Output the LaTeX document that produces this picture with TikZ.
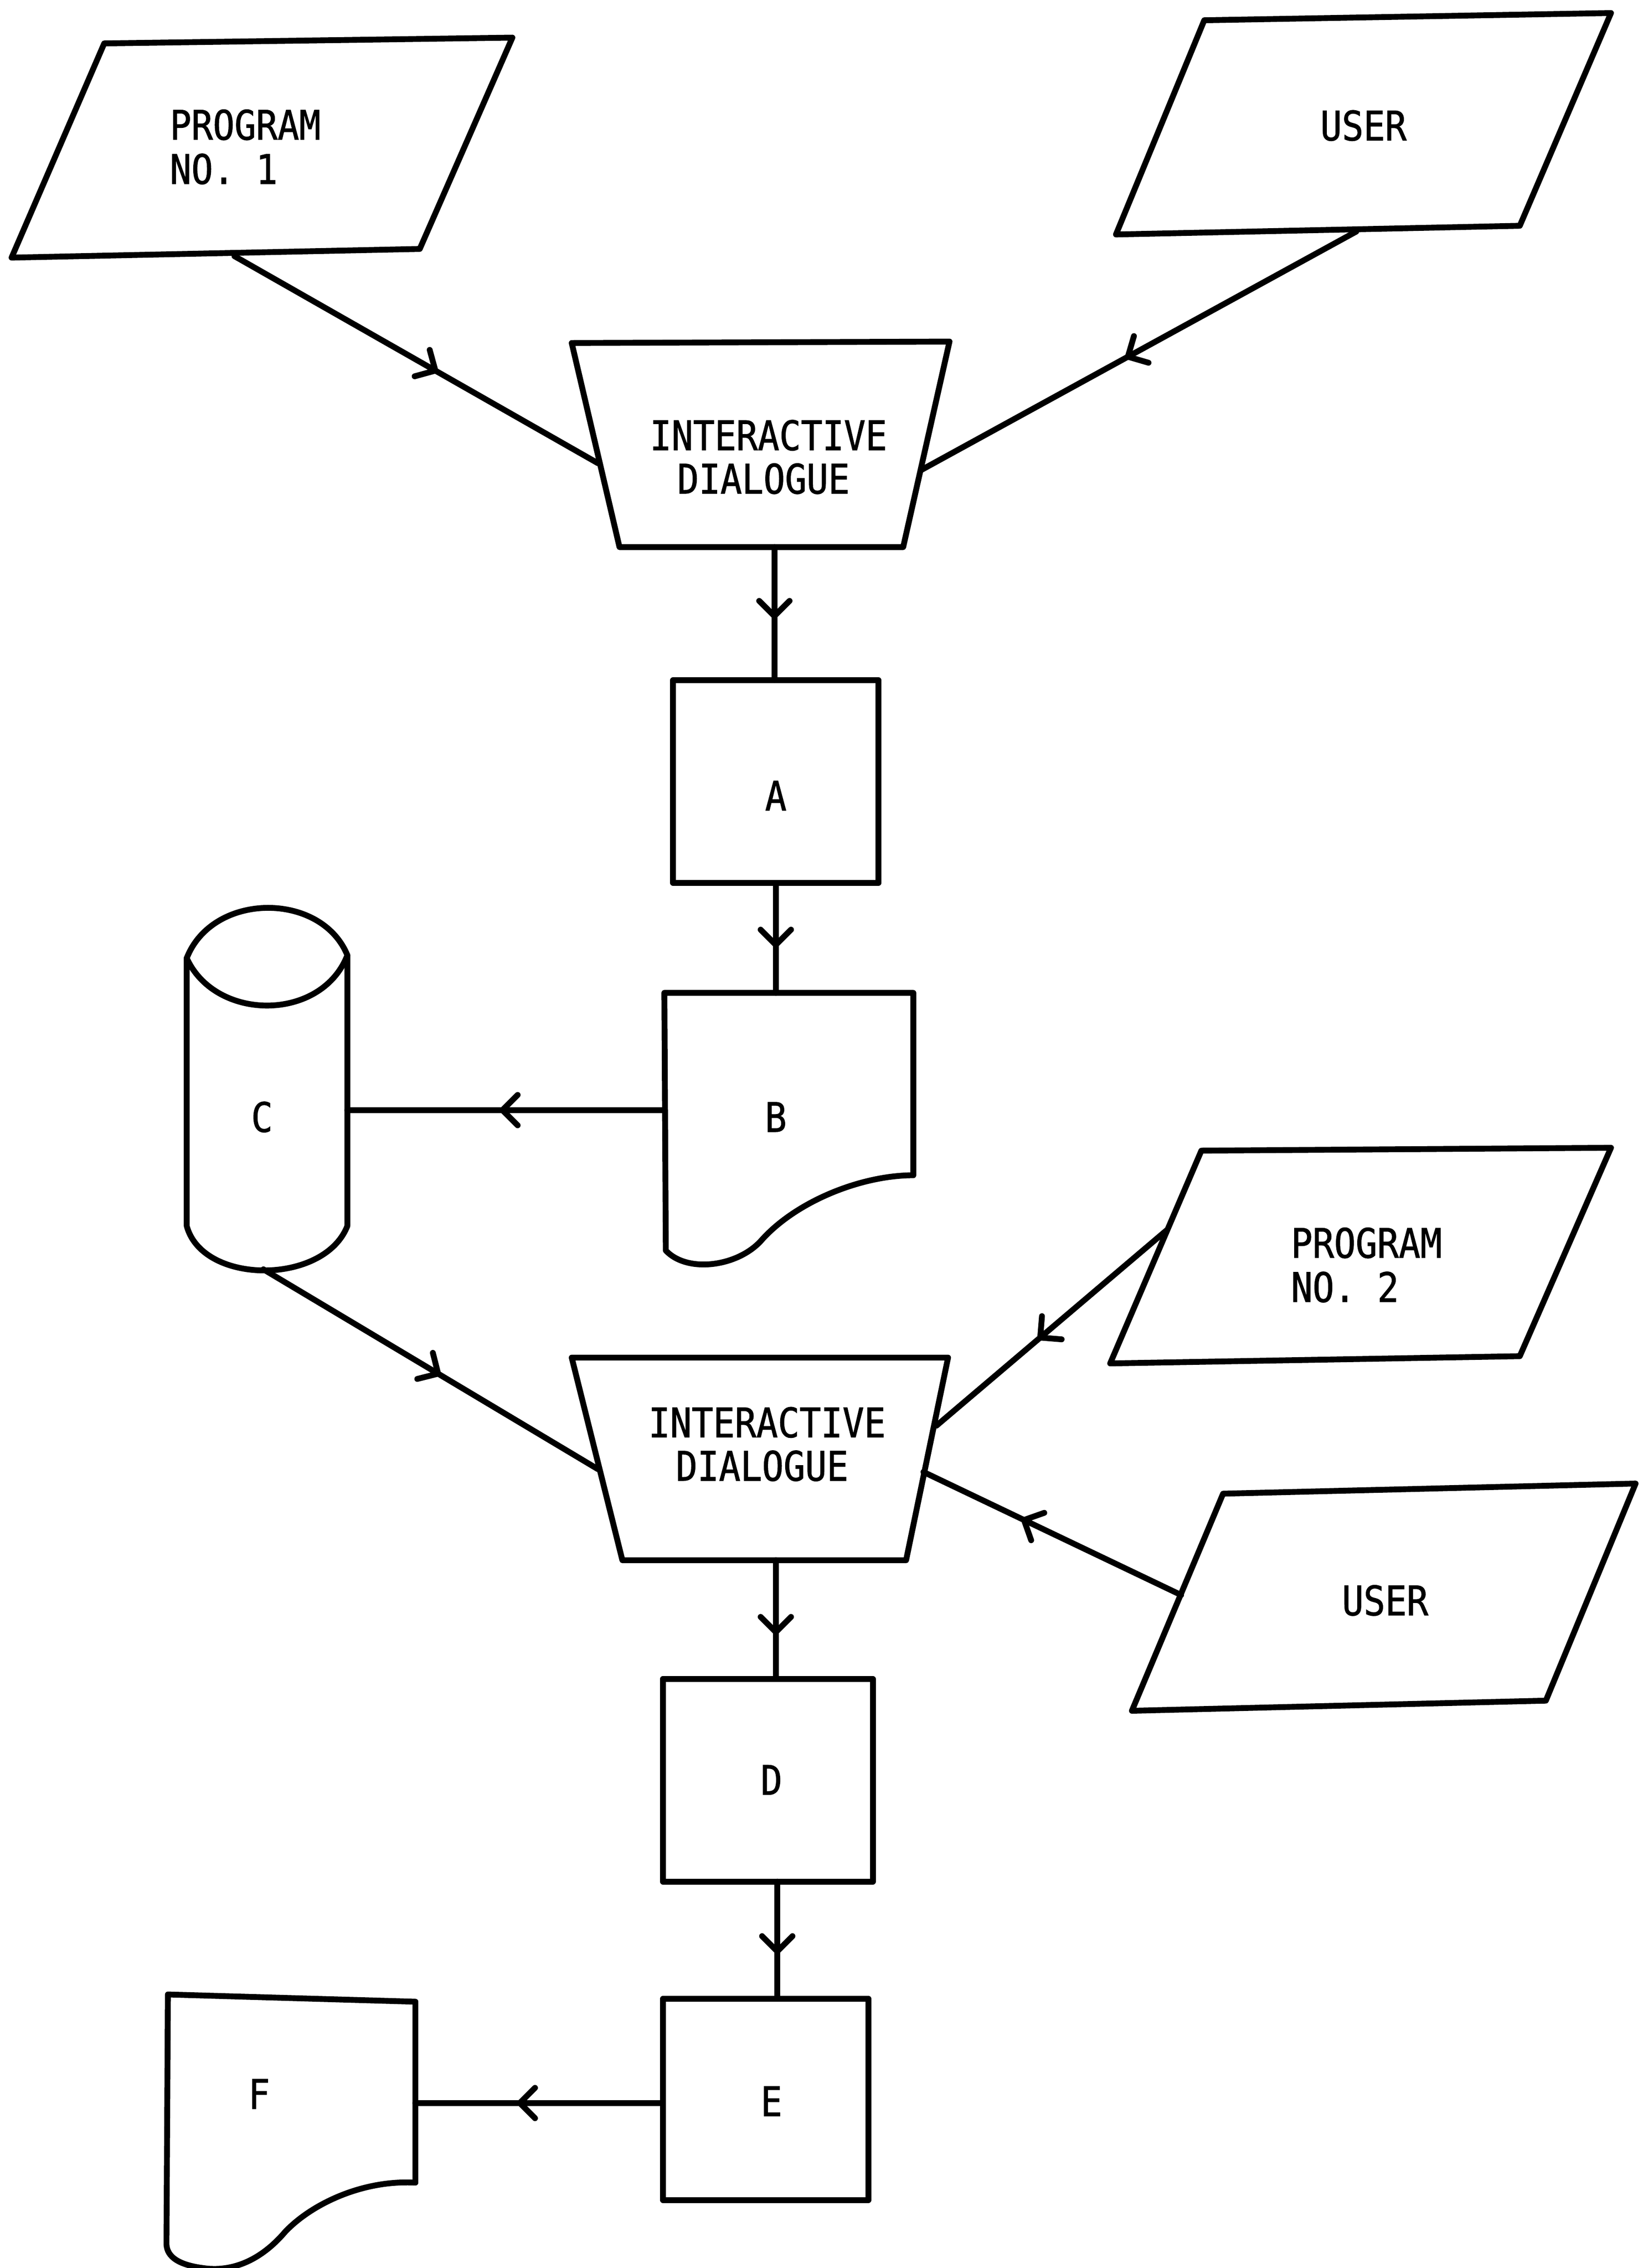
\documentclass[tikz,border=0pt]{standalone}
\usepackage{fontspec}
\newfontfamily\typefont[FakeStretch=0.88,FakeBold=1.2]{DejaVu Sans Mono}
\usetikzlibrary{arrows.meta,decorations.markings}
\begin{document}
\begin{tikzpicture}[x=0.02cm,y=-0.02cm,
  outline/.style={draw=black, line width=2.3pt, line join=round, line cap=round},
  txt/.style={font=\typefont\fontsize{16}{17.3}\selectfont, inner sep=0pt},
  flow/.style={outline, postaction={decorate},
    decoration={markings, mark=at position #1 with {\arrow{Straight Barb[length=0.21cm,width=0.42cm,round]}}}}
]
\path[fill=white,use as bounding box] (0,0) rectangle (1135,1567);

% ---- shapes ----
% Program No. 1 (parallelogram)
\draw[outline] (72,30) -- (354,26) -- (290,172) -- (8,178) -- cycle;
% User (top)
\draw[outline] (832,14) -- (1113,9) -- (1050,156) -- (771,162) -- cycle;
% Interactive dialogue 1 (trapezium)
\draw[outline] (395,237) -- (656,236) -- (624,378) -- (428,378) -- cycle;
% A
\draw[outline] (465,470) rectangle (607,610);
% B (document)
\draw[outline] (459,686) -- (631,686) -- (631,812)
  .. controls (595,812) and (550,830) .. (526,857)
  .. controls (510,875) and (475,880) .. (460,864) -- cycle;
% C (cylinder)
\draw[outline] (129,662) -- (129,847) .. controls (140,888) and (224,888) .. (240,847) -- (240,660);
\draw[outline] (129,662) .. controls (147,616) and (222,616) .. (240,660)
  .. controls (222,706) and (149,706) .. cycle;
% Program No. 2
\draw[outline] (830,795) -- (1113,793) -- (1050,937) -- (767,942) -- cycle;
% Interactive dialogue 2
\draw[outline] (395,938) -- (655,938) -- (626,1078) -- (430,1078) -- cycle;
% User (bottom)
\draw[outline] (845,1032) -- (1130,1025) -- (1068,1175) -- (782,1182) -- cycle;
% D
\draw[outline] (458,1160) rectangle (603,1300);
% E
\draw[outline] (458,1381) rectangle (600,1520);
% F (document)
\draw[outline] (116,1378) -- (287,1383) -- (287,1508)
  .. controls (250,1506) and (215,1523) .. (197,1542)
  .. controls (180,1562) and (160,1570) .. (140,1567)
  .. controls (125,1565) and (115,1560) .. (115,1550) -- cycle;

% ---- texts ----
\node[txt, anchor=base west] (p1a) at (117,96.5) {PROGRAM};
\node[txt, anchor=base west] (p1b) at (117,127) {NO. 1};
\node[txt, anchor=base] (u1) at (942,97) {USER};
\node[txt, anchor=base] (id1a) at (531,311) {INTERACTIVE};
\node[txt, anchor=base] (id1b) at (527.5,341) {DIALOGUE};
\node[txt, anchor=base] (ta) at (536,560) {A};
\node[txt, anchor=base] (tb) at (536,782) {B};
\node[txt, anchor=base] (tc) at (181,782) {C};
\node[txt, anchor=base west] (p2a) at (891.6,869) {PROGRAM};
\node[txt, anchor=base west] (p2b) at (891.6,899.5) {NO. 2};
\node[txt, anchor=base] (id2a) at (530,993) {INTERACTIVE};
\node[txt, anchor=base] (id2b) at (526.5,1023) {DIALOGUE};
\node[txt, anchor=base] (u2) at (957,1116) {USER};
\node[txt, anchor=base] (td) at (533,1240) {D};
\node[txt, anchor=base] (te) at (533,1462) {E};
\node[txt, anchor=base] (tf) at (179,1457) {F};

% ---- connection points ----
\coordinate (p1o) at (162,177);
\coordinate (id1l) at (413,320);
\coordinate (u1o) at (937,160);
\coordinate (id1r) at (636,325);
\coordinate (id1o) at (535,378);
\coordinate (ain) at (535,470);
\coordinate (aout) at (536,610);
\coordinate (bin) at (536,686);
\coordinate (bout) at (459,767);
\coordinate (cin) at (240,767);
\coordinate (cout) at (182,877);
\coordinate (id2l) at (413,1015);
\coordinate (p2o) at (806,850);
\coordinate (id2r) at (647,985);
\coordinate (u2o) at (816,1102);
\coordinate (id2s) at (638,1017);
\coordinate (id2o) at (536,1078);
\coordinate (din) at (536,1160);
\coordinate (dout) at (537,1300);
\coordinate (ein) at (537,1381);
\coordinate (eout) at (458,1453);
\coordinate (fin) at (287,1453);

% ---- connectors ----
\draw[flow=0.56] (p1o) -- (id1l);
\draw[flow=0.53] (u1o) -- (id1r);
\draw[flow=0.54] (id1o) -- (ain);
\draw[flow=0.59] (aout) -- (bin);
\draw[flow=0.52] (bout) -- (cin);
\draw[flow=0.53] (cout) -- (id2l);
\draw[flow=0.56] (p2o) -- (id2r);
\draw[flow=0.62] (u2o) -- (id2s);
\draw[flow=0.63] (id2o) -- (din);
\draw[flow=0.62] (dout) -- (ein);
\draw[flow=0.59] (eout) -- (fin);
\end{tikzpicture}
\end{document}
